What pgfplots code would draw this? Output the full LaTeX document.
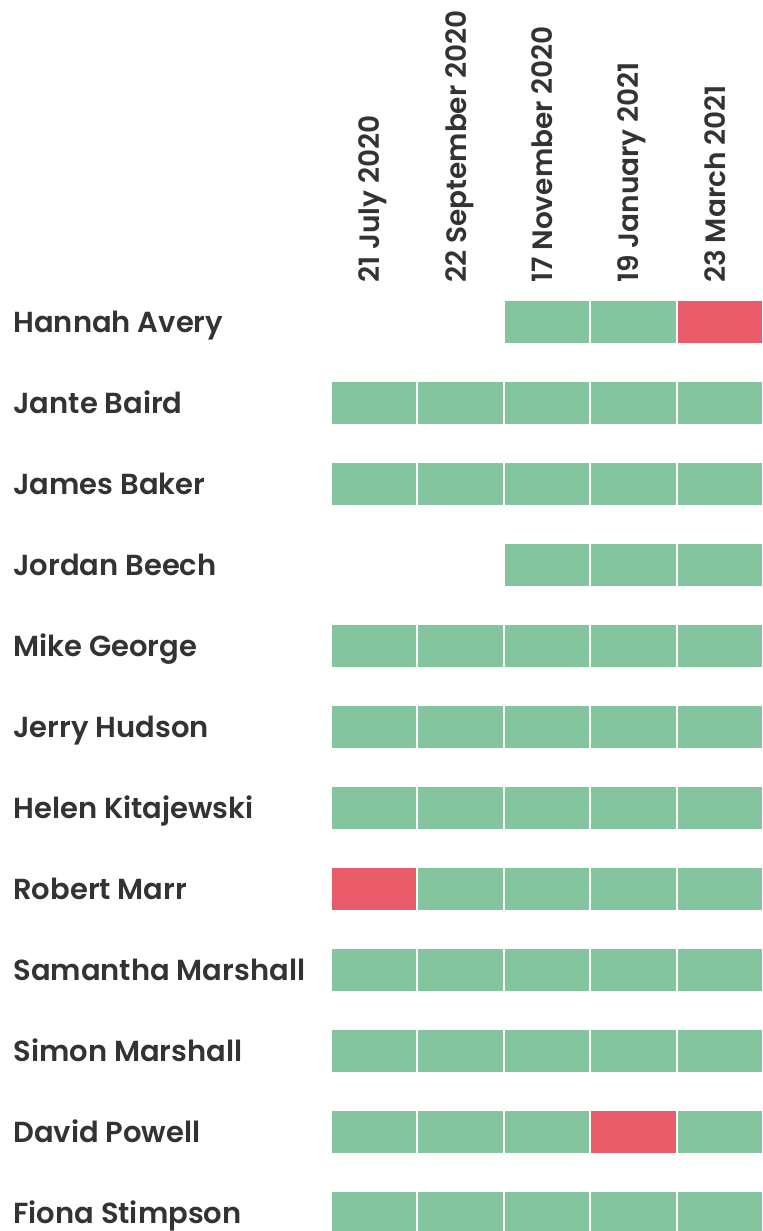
\documentclass[border=0pt]{standalone}
\usepackage{fontspec}
\setmainfont{Poppins}[BoldFont={Poppins SemiBold}]
\usepackage{pgfplots}
\usepackage{pgfplotstable}
\pgfplotsset{compat=1.18}
\definecolor{okgreen}{HTML}{84C5A0}
\definecolor{badred}{HTML}{E85B68}
\definecolor{txt}{HTML}{333333}
% columns: b = blank, g = green, r = red, for each of the 5 dates
\pgfplotstableread{
y  bA gA rA  bB gB rB  bC gC rC  bD gD rD  bE gE rE
0  1  0  0   1  0  0   0  1  0   0  1  0   0  0  1
1  0  1  0   0  1  0   0  1  0   0  1  0   0  1  0
2  0  1  0   0  1  0   0  1  0   0  1  0   0  1  0
3  1  0  0   1  0  0   0  1  0   0  1  0   0  1  0
4  0  1  0   0  1  0   0  1  0   0  1  0   0  1  0
5  0  1  0   0  1  0   0  1  0   0  1  0   0  1  0
6  0  1  0   0  1  0   0  1  0   0  1  0   0  1  0
7  0  0  1   0  1  0   0  1  0   0  1  0   0  1  0
8  0  1  0   0  1  0   0  1  0   0  1  0   0  1  0
9  0  1  0   0  1  0   0  1  0   0  1  0   0  1  0
10 0  1  0   0  1  0   0  1  0   0  0  1   0  1  0
11 0  1  0   0  1  0   0  1  0   0  1  0   0  1  0
}\status
\begin{document}
\begin{tikzpicture}
\begin{axis}[
  scale only axis,
  width=216pt, height=467pt,
  xbar stacked, bar width=0.543,
  xmin=0, xmax=5,
  ymin=-0.27, ymax=11.26,
  y dir=reverse,
  axis line style={draw=none},
  major tick length=0pt,
  xtick={0.5,1.5,2.5,3.5,4.5},
  xticklabels={21 July 2020,22 September 2020,17 November 2020,19 January 2021,23 March 2021},
  xticklabel pos=upper,
  xticklabel style={rotate=90, anchor=mid west, inner sep=0pt, xshift=8.5pt, font=\fontsize{14}{17}\selectfont\bfseries, text=txt},
  ytick={0,...,11},
  yticklabels={Hannah Avery,Jante Baird,James Baker,Jordan Beech,Mike George,Jerry Hudson,Helen Kitajewski,Robert Marr,Samantha Marshall,Simon Marshall,David Powell,Fiona Stimpson},
  yticklabel style={anchor=base west, inner sep=0pt, xshift=-159pt, yshift=-5.5pt, font=\fontsize{14.5}{17}\selectfont\bfseries, text=txt},
  clip=false,
]
\pgfplotsinvokeforeach{A,B,C,D,E}{
  \addplot[draw=none, fill=none] table[x=b#1, y=y] {\status};
  \addplot[draw=white, line width=1pt, fill=okgreen] table[x=g#1, y=y] {\status};
  \addplot[draw=white, line width=1pt, fill=badred] table[x=r#1, y=y] {\status};
}
\coordinate (sw) at (rel axis cs:0,0);
\end{axis}
\pgfresetboundingbox
\path[use as bounding box] ([xshift=-165.5pt,yshift=1.5pt]sw) rectangle ++(381.5pt,615.5pt);
\end{tikzpicture}
\end{document}
